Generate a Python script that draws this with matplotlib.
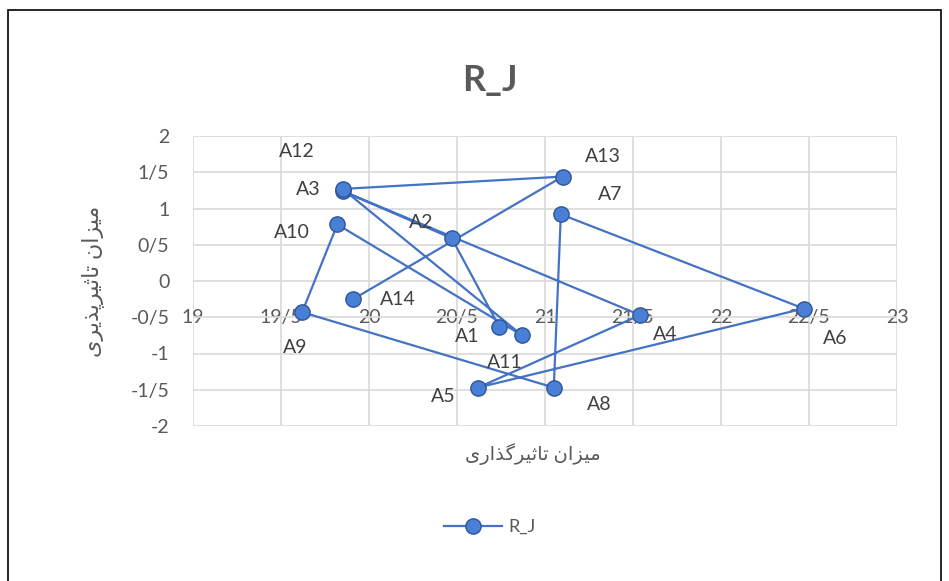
import matplotlib
matplotlib.use("Agg")
import matplotlib.pyplot as plt
from matplotlib.patches import Rectangle
from matplotlib.lines import Line2D

plt.rcParams["font.family"] = ["Lato", "DejaVu Sans"]

# data
names = ["A1", "A2", "A3", "A4", "A5", "A6", "A7", "A8", "A9", "A10", "A11", "A12", "A13", "A14"]
x_vals = [20.74, 20.47, 19.85, 21.54, 20.62, 22.47, 21.09, 21.05, 19.62, 19.82, 20.87, 19.85, 21.10, 19.91]
y_vals = [-0.63, 0.59, 1.24, -0.47, -1.47, -0.38, 0.92, -1.47, -0.43, 0.78, -0.75, 1.27, 1.44, -0.25]
x_ticks = [19, 19.5, 20, 20.5, 21, 21.5, 22, 22.5, 23]
y_ticks = [-2, -1.5, -1, -0.5, 0, 0.5, 1, 1.5, 2]

# label offsets in pixels (dx, dy), up is positive
label_offsets = {
    "A1": (-32, -10), "A2": (-31, 16), "A3": (-34, 2), "A4": (25, -19),
    "A5": (-35, -9), "A6": (31, -30), "A7": (49, 20), "A8": (45, -17),
    "A9": (-7, -35), "A10": (-45, -8), "A11": (-17, -27), "A12": (-46, 37),
    "A13": (40, 20), "A14": (45, 0),
}

# Persian text in presentation forms, visual (left-to-right) order
x_title = "\uFEE3\uFBFF\uFEB0\uFE8D\uFEE5 \uFE97\uFE8E\uFE9B\uFBFF\uFEAE\uFB94\uFEAC\uFE8D\uFEAD\uFBFC"[::-1]
y_title = "\uFEE3\uFBFF\uFEB0\uFE8D\uFEE5 \uFE97\uFE8E\uFE9B\uFBFF\uFEAE\uFB58\uFEAC\uFBFE\uFEAE\uFBFC"[::-1]


def fa_num(v):
    # Persian style decimal separator
    return f"{v:g}".replace(".", "/")


text_color = "#595959"
line_color = "#4472c4"

fig = plt.figure(figsize=(9.49, 5.81), dpi=100)
W, H = 949, 581
ax = fig.add_axes([193 / W, 1 - 426 / H, 704 / W, 290 / H])

ax.plot(x_vals, y_vals, color=line_color, linewidth=1.6, marker="o", markersize=11,
        markerfacecolor="#4a7fd6", markeredgecolor="#2f5597", markeredgewidth=1.0,
        label="R_J", zorder=3)

for name, x, y in zip(names, x_vals, y_vals):
    dx, dy = label_offsets[name]
    ax.annotate(name, (x, y), xytext=(dx, dy), textcoords="offset pixels",
                ha="center", va="center", fontsize=14, color="#404040")

ax.set_xlim(19, 23)
ax.set_ylim(-2, 2)
ax.set_xticks(x_ticks)
ax.set_yticks(y_ticks)
ax.set_xticklabels([fa_num(v) for v in x_ticks])
ax.set_yticklabels([fa_num(v) for v in y_ticks])
ax.grid(True, color="#d9d9d9", linewidth=1.2)
ax.set_axisbelow(True)
for side in ["top", "right", "left"]:
    ax.spines[side].set_visible(False)
ax.spines["bottom"].set_position(("data", -0.5))
ax.spines["bottom"].set_color("none")
ax.tick_params(axis="x", length=0, pad=0, labelsize=14, colors=text_color)
ax.tick_params(axis="y", length=0, pad=17, labelsize=14, colors=text_color)
for lab in ax.get_xticklabels():
    lab.set_va("center")

ax.set_xlabel(x_title, fontsize=14, color=text_color)
ax.xaxis.set_label_coords(0.483, -0.06)
ax.set_ylabel(y_title, fontsize=16, color=text_color, va="center")
ax.yaxis.set_label_coords(-0.143, 0.5)

fig.text(490 / W, 1 - 80 / H, "R_J", ha="center", va="center", fontsize=26,
         fontweight="bold", color=text_color)

handle = Line2D([], [], color=line_color, linewidth=1.6, marker="o", markersize=11,
                markerfacecolor="#4a7fd6", markeredgecolor="#2f5597")
fig.legend([handle], ["R_J"], loc="center", bbox_to_anchor=(490 / W, 1 - 527 / H),
           frameon=False, fontsize=13, labelcolor=text_color, handlelength=3.2,
           handletextpad=0.4)

fig.patches.append(Rectangle((8 / W, -0.05), 933 / W, 1 - 10 / H + 0.05,
                             transform=fig.transFigure, fill=False,
                             edgecolor="black", linewidth=1.2))

fig.savefig("out.png", dpi=100)
